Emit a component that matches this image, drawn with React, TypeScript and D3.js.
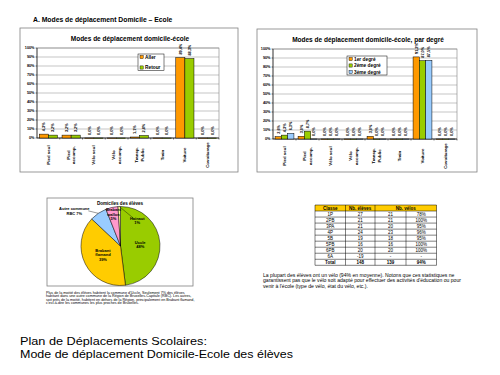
import React from 'react';
import * as d3 from 'd3';

// ---------- DATA ----------
const categories = ['Pied seul', 'Pied accomp.', 'Vélo seul', 'Vélo accomp.', 'Transp. Public', 'Train', 'Voiture', 'Covoiturage'];
const categoryLines = [['Pied seul'], ['Pied', 'accomp.'], ['Vélo seul'], ['Vélo', 'accomp.'], ['Transp.', 'Public'], ['Train'], ['Voiture'], ['Covoiturage']];
const allerValues = [4.3, 3.2, 0, 0, 1.1, 0, 89.4, 0];
const retourValues = [3.2, 3.2, 0, 0, 2.8, 0, 88.3, 0];
const degre1Values = [2.6, 3.0, 0, 0, 3.0, 0, 91.2, 0];
const degre2Values = [4.3, 8.7, 0, 0, 0, 0, 87.0, 0];
const degre3Values = [6.3, 0, 0, 0, 0, 0, 87.5, 0];
const yTicks = [0, 10, 20, 30, 40, 50, 60, 70, 80, 90, 100];

const pieNames = ['Uccle', 'Brabant flamand', 'Autre commune RBC', 'Brabant wallon', 'Hainaut'];
const pieValues = [48, 39, 7, 5, 1];
const pieLabelLines = [['Uccle', '48%'], ['Brabant', 'flamand', '39%'], ['Autre commune', 'RBC 7%'], ['Brabant', 'wallon', '5%'], ['Hainaut', '1%']];
const pieColors = ['#99CC00', '#FFCC00', '#99CCFF', '#FF99CC', '#FFFF99'];

const tableClasses = ['1P', '2PB', '3PA', '4P', '5B', '5PB', '6PB', '6A', 'Total'];
const tableEleves = ['27', '21', '21', '24', '19', '16', '20', '-19', '148'];
const tableVelos = ['21', '21', '20', '23', '18', '16', '20', '-', '139'];
const tablePct = ['78%', '100%', '95%', '96%', '95%', '100%', '100%', '-', '94%'];

const pieText = [
  "Plus de la moitié des élèves habitent la commune d'Uccle. Seulement 7% des élèves",
  "habitant dans une autre commune de la Région de Bruxelles-Capitale (RBC). Les autres,",
  "soit près de la moitié, habitent en dehors de la Région, principalement en Brabant flamand,",
  "c'est-à-dire les communes les plus proches de Bruxelles.",
];
const tableText = [
  "La plupart des élèves ont un vélo (94% en moyenne). Notons que ces statistiques ne",
  "garantissent pas que le vélo soit adapté pour effectuer des activités d'éducation ou pour",
  "venir à l'école (type de vélo, état du vélo, etc.).",
];
const footerLines = ['Plan de Déplacements Scolaires:', 'Mode de déplacement Domicile-Ecole des élèves'];

const ORANGE = '#FF9900';
const GREEN = '#99CC00';
const BLUE = '#99CCFF';
const FONT = 'Liberation Sans, Arial, sans-serif';

type Box = { x: number; y: number; w: number; h: number };
type Plot = { x0: number; x1: number; yt: number; yb: number };

function BarChart(props: {
  box: Box; plot: Plot; title: string; titleY: number;
  series: number[][]; names: string[]; colors: string[];
  legend: Box; pad: number; labelY: number;
}) {
  const { box, plot, title, titleY, series, names, colors, legend, pad, labelY } = props;
  const x0 = d3.scaleBand<string>().domain(categories).range([plot.x0, plot.x1]).paddingInner(pad).paddingOuter(pad / 2);
  const x1 = d3.scaleBand<number>().domain(d3.range(series.length)).range([0, x0.bandwidth()]);
  const y = d3.scaleLinear().domain([0, 100]).range([plot.yb, plot.yt]);
  const fmt = (v: number) => d3.format('.1f')(v).replace('.', ',') + '%';
  const step = x0.step();
  const legendStep = (legend.h - 6) / Math.max(1, names.length - 1);
  return (
    <g fontFamily={FONT}>
      <rect x={box.x} y={box.y} width={box.w} height={box.h} fill="#fff" stroke="#808080" strokeWidth={0.8} />
      <text x={box.x + box.w / 2 + 1} y={titleY} textAnchor="middle" fontSize={6.5} fontWeight="bold">{title}</text>
      <rect x={plot.x0} y={plot.yt} width={plot.x1 - plot.x0} height={plot.yb - plot.yt} fill="#fff" stroke="#808080" strokeWidth={0.6} />
      {yTicks.map(t => (
        <g key={t}>
          <line x1={plot.x0} x2={plot.x1} y1={y(t)} y2={y(t)} stroke="#888" strokeWidth={0.5} />
          <line x1={plot.x0 - 1.5} x2={plot.x0} y1={y(t)} y2={y(t)} stroke="#000" strokeWidth={0.5} />
          <text x={plot.x0 - 2.5} y={y(t)} dy="0.35em" textAnchor="end" fontSize={3.8} fontWeight="bold">{t}%</text>
        </g>
      ))}
      <line x1={plot.x0} x2={plot.x0} y1={plot.yt} y2={plot.yb} stroke="#000" strokeWidth={0.6} />
      <line x1={plot.x0} x2={plot.x1} y1={plot.yb} y2={plot.yb} stroke="#000" strokeWidth={0.6} />
      {categories.map((c, i) => (
        <line key={c} x1={plot.x0 + (i + 1) * step} x2={plot.x0 + (i + 1) * step} y1={plot.yb} y2={plot.yb + 1.5} stroke="#000" strokeWidth={0.5} />
      ))}
      {series.map((vals, si) => vals.map((v, ci) => {
        const bx = (x0(categories[ci]) as number) + (x1(si) as number);
        const bw = x1.bandwidth();
        const top = y(v);
        return (
          <g key={si + '-' + ci}>
            <rect x={bx} y={top} width={bw} height={Math.max(plot.yb - top, 0.4)} fill={colors[si]} stroke="#000" strokeWidth={0.5} />
            <text transform={`translate(${bx + bw / 2},${top - 3}) rotate(-90)`} dy="0.35em" fontSize={3.8} fontWeight="bold">{fmt(v)}</text>
          </g>
        );
      }))}
      {categoryLines.map((lines, ci) => {
        const cx = (x0(categories[ci]) as number) + x0.bandwidth() / 2;
        return (
          <text key={ci} transform={`translate(${cx},${labelY}) rotate(-90)`} textAnchor="middle" fontSize={4.4} fontWeight="bold">
            {lines.map((l, li) => (
              <tspan key={li} x={0} y={(li - (lines.length - 1) / 2) * 5.5} dy="0.35em">{l}</tspan>
            ))}
          </text>
        );
      })}
      <rect x={legend.x} y={legend.y} width={legend.w} height={legend.h} fill="#fff" stroke="#000" strokeWidth={0.5} />
      {names.map((n, i) => (
        <g key={n}>
          <rect x={legend.x + 2} y={legend.y + 3 + i * legendStep - 1.6} width={3.2} height={3.2} fill={colors[i]} stroke="#000" strokeWidth={0.4} />
          <text x={legend.x + 7} y={legend.y + 3 + i * legendStep} dy="0.35em" fontSize={4.8} fontWeight="bold">{n}</text>
        </g>
      ))}
    </g>
  );
}

function PieChart() {
  const cx = 120.5, cy = 246, R = 39.5;
  const arcs = d3.pie<number>().sort(null).value(d => d)(pieValues);
  const arcGen = d3.arc<d3.PieArcDatum<number>>().innerRadius(0).outerRadius(R);
  const edge = d3.arc<d3.PieArcDatum<number>>().innerRadius(R).outerRadius(R);
  const near = d3.arc<d3.PieArcDatum<number>>().innerRadius(R * 0.82).outerRadius(R * 0.82);
  const labelPos = (i: number): [number, number] => {
    if (i === 3) return near.centroid(arcs[i]) as [number, number];
    if (i === 2) {
      const [ex, ey] = edge.centroid(arcs[i]);
      return [ex - 24, ey - 2.5];
    }
    if (i === 4) {
      const [ex, ey] = edge.centroid(arcs[i]);
      return [ex + 18, ey + 14];
    }
    return arcGen.centroid(arcs[i]) as [number, number];
  };
  return (
    <g fontFamily={FONT}>
      <rect x={47} y={198} width={146} height={88} fill="#fff" stroke="#808080" strokeWidth={0.8} />
      <text x={120} y={205} textAnchor="middle" fontSize={4.6} fontWeight="bold">Domiciles des élèves</text>
      <g transform={`translate(${cx},${cy})`}>
        {arcs.map((a, i) => (
          <path key={pieNames[i]} d={arcGen(a) as string} fill={pieColors[i]} stroke="#000" strokeWidth={0.5} />
        ))}
        {[2, 4].map(i => {
          const [ex, ey] = edge.centroid(arcs[i]);
          const [lx, ly] = labelPos(i);
          const sx = i === 2 ? lx + 14 : lx - 4;
          const sy = i === 2 ? ly : ly - 2.5;
          return <line key={i} x1={sx} y1={sy} x2={ex} y2={ey} stroke="#000" strokeWidth={0.4} />;
        })}
        {arcs.map((a, i) => {
          const [lx, ly] = labelPos(i);
          const lines = pieLabelLines[i];
          return (
            <text key={i} x={lx} y={ly} textAnchor="middle" fontSize={4} fontWeight="bold">
              {lines.map((l, li) => (
                <tspan key={li} x={lx} y={ly + (li - (lines.length - 1) / 2) * 4.6} dy="0.35em">{l}</tspan>
              ))}
            </text>
          );
        })}
      </g>
      {pieText.map((t, i) => (
        <text key={i} x={46} y={293.5 + i * 3.6} fontSize={3.7}>{t}</text>
      ))}
    </g>
  );
}

function Table() {
  const cols = [315, 345.5, 375, 406, 436.5];
  const rows = d3.scaleBand<number>().domain(d3.range(tableClasses.length + 1)).range([205, 265.3]);
  const rh = rows.bandwidth();
  const mid = (a: number, b: number) => (a + b) / 2;
  return (
    <g fontFamily={FONT} fontSize={4.5}>
      <rect x={cols[0]} y={rows(0)} width={cols[4] - cols[0]} height={rh} fill="#FFCC00" />
      <text x={mid(cols[0], cols[1])} y={(rows(0) as number) + rh / 2} dy="0.35em" textAnchor="middle" fontWeight="bold">Classe</text>
      <text x={mid(cols[1], cols[2])} y={(rows(0) as number) + rh / 2} dy="0.35em" textAnchor="middle" fontWeight="bold">Nb. élèves</text>
      <text x={mid(cols[2], cols[4])} y={(rows(0) as number) + rh / 2} dy="0.35em" textAnchor="middle" fontWeight="bold">Nb. vélos</text>
      {tableClasses.map((c, i) => {
        const ry = (rows(i + 1) as number) + rh / 2;
        const bold = i === tableClasses.length - 1 ? 'bold' : 'normal';
        return (
          <g key={c} fontWeight={bold}>
            <text x={mid(cols[0], cols[1])} y={ry} dy="0.35em" textAnchor="middle">{c}</text>
            <text x={mid(cols[1], cols[2])} y={ry} dy="0.35em" textAnchor="middle">{tableEleves[i]}</text>
            <text x={mid(cols[2], cols[3])} y={ry} dy="0.35em" textAnchor="middle">{tableVelos[i]}</text>
            <text x={mid(cols[3], cols[4])} y={ry} dy="0.35em" textAnchor="middle">{tablePct[i]}</text>
          </g>
        );
      })}
      {d3.range(tableClasses.length + 2).map(i => {
        const yy = i <= tableClasses.length ? (rows(i) as number) : 265.3;
        return <line key={'h' + i} x1={cols[0]} x2={cols[4]} y1={yy} y2={yy} stroke="#000" strokeWidth={0.5} />;
      })}
      {cols.map((cx, i) => (
        <line key={'v' + i} x1={cx} x2={cx} y1={i === 3 ? (rows(1) as number) : 205} y2={265.3} stroke="#000" strokeWidth={0.5} />
      ))}
      {tableText.map((t, i) => (
        <text key={i} x={263} y={277 + i * 5.3} fontSize={5.1}>{t}</text>
      ))}
    </g>
  );
}

export default function App() {
  const footerWidths = [187, 273];
  return (
    <div style={{ position: 'absolute', left: 0, top: 0 }}>
      <svg width={500} height={375} viewBox="0 0 500 375" style={{ display: 'block', background: '#fff' }}>
        <rect x={0} y={0} width={500} height={375} fill="#fff" />
        <text x={33} y={21.5} fontFamily={FONT} fontSize={6.8} fontWeight="bold">A. Modes de déplacement Domicile – Ecole</text>
        <BarChart
          box={{ x: 20, y: 28, w: 218, h: 144 }}
          plot={{ x0: 37, x1: 219, yt: 48, yb: 138 }}
          title="Modes de déplacement domicile-école" titleY={41}
          series={[allerValues, retourValues]} names={['Aller', 'Retour']} colors={[ORANGE, GREEN]}
          legend={{ x: 138, y: 54, w: 26, h: 16.5 }} pad={0.2} labelY={155}
        />
        <BarChart
          box={{ x: 257, y: 29, w: 220, h: 143 }}
          plot={{ x0: 273, x1: 457, yt: 49, yb: 139 }}
          title="Modes de déplacement domicile-école, par degré" titleY={42}
          series={[degre1Values, degre2Values, degre3Values]} names={['1er degré', '2ème degré', '3ème degré']} colors={[ORANGE, GREEN, BLUE]}
          legend={{ x: 347, y: 56, w: 40, h: 19 }} pad={0.18} labelY={156}
        />
        <PieChart />
        <Table />
        {footerLines.map((l, i) => (
          <text key={i} x={20} y={345 + i * 12.9} fontFamily={FONT} fontSize={11.2}
            textLength={footerWidths[i]} lengthAdjust="spacingAndGlyphs">{l}</text>
        ))}
      </svg>
    </div>
  );
}
